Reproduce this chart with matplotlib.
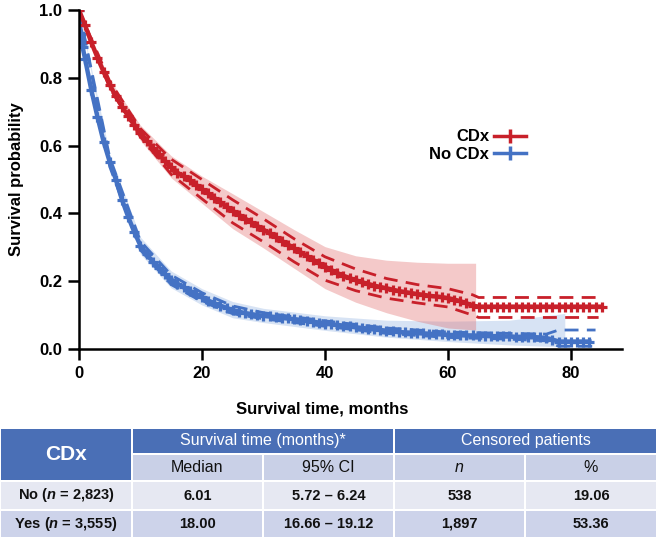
import matplotlib
matplotlib.use("Agg")
import matplotlib.pyplot as plt
from matplotlib.lines import Line2D
from matplotlib.patches import Rectangle

plt.rcParams['font.family'] = ['Liberation Sans', 'DejaVu Sans']
plt.rcParams['mathtext.fontset'] = 'custom'
plt.rcParams['mathtext.bfit'] = 'Liberation Sans:italic:bold'
plt.rcParams['mathtext.it'] = 'Liberation Sans:italic'
plt.rcParams['mathtext.rm'] = 'Liberation Sans'

RED = '#c8202a'
BLUE = '#4472c4'

# Kaplan-Meier estimates (months, survival probability)
cdx_t = list(range(0, 86))
cdx_s = [1.000, 0.955, 0.905, 0.860, 0.818, 0.780, 0.745, 0.715, 0.688, 0.662,
         0.638, 0.615, 0.594, 0.574, 0.555, 0.537, 0.520, 0.510, 0.498, 0.485,
         0.472, 0.459, 0.446, 0.433, 0.420, 0.408, 0.396, 0.385, 0.374, 0.363,
         0.352, 0.341, 0.330, 0.319, 0.308, 0.297, 0.286, 0.275, 0.264, 0.253,
         0.243, 0.233, 0.224, 0.216, 0.209, 0.203, 0.197, 0.192, 0.187, 0.183,
         0.179, 0.175, 0.171, 0.168, 0.165, 0.162, 0.160, 0.157, 0.155, 0.153,
         0.150, 0.146, 0.141, 0.135, 0.128, 0.125, 0.125, 0.125, 0.125, 0.125,
         0.125, 0.125, 0.125, 0.125, 0.125, 0.125, 0.125, 0.125, 0.125, 0.125,
         0.125, 0.125, 0.125, 0.125, 0.125, 0.125]

nocdx_t = [0, 0.3, 0.6] + list(range(1, 84))
nocdx_s = [1.000, 0.930, 0.890,
           0.855, 0.765, 0.685, 0.612, 0.552, 0.500, 0.440, 0.390, 0.345,
           0.305, 0.280, 0.258, 0.238, 0.220, 0.205, 0.193, 0.182, 0.172, 0.162,
           0.152, 0.143, 0.135, 0.128, 0.121, 0.115, 0.110, 0.106, 0.103, 0.100,
           0.098, 0.096, 0.094, 0.092, 0.090, 0.088, 0.086, 0.084, 0.081, 0.078,
           0.075, 0.073, 0.071, 0.069, 0.067, 0.064, 0.062, 0.060, 0.058, 0.056,
           0.054, 0.052, 0.050, 0.049, 0.048, 0.047, 0.046, 0.045, 0.044, 0.043,
           0.042, 0.041, 0.041, 0.040, 0.040, 0.039, 0.039, 0.038, 0.038, 0.037,
           0.037, 0.036, 0.036, 0.035, 0.035, 0.034, 0.032, 0.028, 0.022, 0.022,
           0.022, 0.022, 0.022, 0.022]

# pointwise 95% CI (dashed lines)
cdx_ci_t = [0, 5, 10, 15, 20, 25, 30, 35, 40, 45, 50, 55, 60, 64, 65, 70, 75, 80, 84.5]
cdx_ci_hi = [1.0, 0.79, 0.65, 0.56, 0.5, 0.44, 0.384, 0.325, 0.272, 0.236, 0.208,
             0.19, 0.178, 0.16, 0.152, 0.152, 0.152, 0.152, 0.152]
cdx_ci_lo = [1.0, 0.77, 0.626, 0.515, 0.443, 0.372, 0.316, 0.257, 0.203, 0.172, 0.15,
             0.136, 0.124, 0.1, 0.093, 0.093, 0.093, 0.093, 0.093]

nocdx_ci_t = [0, 5, 10, 15, 20, 25, 30, 40, 50, 60, 70, 76, 78, 84]
nocdx_ci_hi = [1.0, 0.565, 0.318, 0.218, 0.166, 0.127, 0.107, 0.083, 0.062, 0.05,
               0.046, 0.044, 0.056, 0.056]
nocdx_ci_lo = [1.0, 0.538, 0.292, 0.19, 0.14, 0.104, 0.089, 0.067, 0.046, 0.034,
               0.029, 0.024, 0.008, 0.008]

# confidence bands (shaded)
cdx_band_t = [0, 5, 10, 15, 20, 25, 30, 35, 40, 45, 50, 55, 60, 64.5]
cdx_band_hi = [1.0, 0.795, 0.66, 0.57, 0.51, 0.458, 0.405, 0.352, 0.302, 0.275,
               0.262, 0.256, 0.253, 0.253]
cdx_band_lo = [1.0, 0.765, 0.615, 0.505, 0.43, 0.355, 0.298, 0.238, 0.178, 0.138,
               0.107, 0.082, 0.062, 0.056]

nocdx_band_t = [0, 5, 10, 15, 20, 25, 30, 40, 50, 60, 70, 79]
nocdx_band_hi = [1.0, 0.575, 0.33, 0.23, 0.178, 0.14, 0.12, 0.098, 0.085, 0.082,
                 0.085, 0.105]
nocdx_band_lo = [1.0, 0.53, 0.28, 0.18, 0.13, 0.092, 0.078, 0.055, 0.035, 0.022,
                 0.012, 0.006]

xticks = [0, 20, 40, 60, 80]
yticks = [0.0, 0.2, 0.4, 0.6, 0.8, 1.0]

# table contents
col_groups = ['Survival time (months)*', 'Censored patients']
sub_heads = ['Median', '95% CI', r'$\mathit{n}$', '%']
row_labels = [r'No ($\mathbfit{n}$ = 2,823)', r'Yes ($\mathbfit{n}$ = 3,555)']
medians = ['6.01', '18.00']
cis = ['5.72 – 6.24', '16.66 – 19.12']
cens_n = ['538', '1,897']
cens_pct = ['19.06', '53.36']

fig = plt.figure(figsize=(6.57, 5.38), dpi=100)
ax = fig.add_axes([0.1202, 0.3513, 0.8265, 0.630])

ax.fill_between(nocdx_band_t, nocdx_band_lo, nocdx_band_hi, color='#8fb0e0',
                alpha=0.35, lw=0)
ax.fill_between(cdx_band_t, cdx_band_lo, cdx_band_hi, color='#e06666',
                alpha=0.35, lw=0)

for t, lo, hi, c in [(nocdx_ci_t, nocdx_ci_lo, nocdx_ci_hi, BLUE),
                     (cdx_ci_t, cdx_ci_lo, cdx_ci_hi, RED)]:
    ax.plot(t, lo, color=c, lw=2, dashes=(5, 3))
    ax.plot(t, hi, color=c, lw=2, dashes=(5, 3))

ax.plot(nocdx_t, nocdx_s, color=BLUE, lw=3.2, marker='+', ms=7.5, mew=2.3)
ax.plot(cdx_t, cdx_s, color=RED, lw=3.2, marker='+', ms=7.5, mew=2.3)

ax.set_xlim(0, 88.3)
ax.set_ylim(0, 1.0)
ax.set_xticks(xticks)
ax.set_yticks(yticks)
ax.set_yticklabels([f'{v:.1f}' for v in yticks])
ax.tick_params(length=8, width=1.8, labelsize=12, pad=4)
for lab in ax.get_xticklabels() + ax.get_yticklabels():
    lab.set_fontweight('bold')
for s in ['top', 'right']:
    ax.spines[s].set_visible(False)
for s in ['left', 'bottom']:
    ax.spines[s].set_linewidth(1.8)
ax.set_xlabel('Survival time, months', fontsize=12, fontweight='bold')
ax.set_ylabel('Survival probability', fontsize=12, fontweight='bold')
ax.xaxis.set_label_coords(0.448, -0.155)
ax.yaxis.set_label_coords(-0.102, 0.5)

handles = [Line2D([], [], color=RED, lw=2.5, marker='|', ms=10, mew=2.5),
           Line2D([], [], color=BLUE, lw=2.5, marker='|', ms=10, mew=2.5)]
leg = ax.legend(handles, ['CDx', 'No CDx'], loc='center', markerfirst=False,
                frameon=False, prop={'weight': 'bold', 'size': 12},
                handlelength=1.9, handletextpad=0.3, labelspacing=0.15,
                bbox_to_anchor=(0.734, 0.6))

# table drawn as patches on a figure-level axes (pixel coordinates)
tax = fig.add_axes([0, 0, 1, 110 / 538])
tax.set_xlim(0, 657)
tax.set_ylim(538, 428)
tax.axis('off')

HEAD = '#4a6fb6'
SUB = '#c9d0e7'
ROW1 = '#e6e8f2'
ROW2 = '#cdd3ea'
cols = [0, 132, 263, 394, 525, 657]
rows = [428, 454, 481, 510, 538]
gap = 1.2


def cell(x0, x1, y0, y1, bg, text, **kw):
    tax.add_patch(Rectangle((x0 + gap, y0 + gap), x1 - x0 - 2 * gap,
                            y1 - y0 - 2 * gap, facecolor=bg, lw=0))
    tax.text((x0 + x1) / 2, (y0 + y1) / 2, text, ha='center', va='center', **kw)


cell(cols[0], cols[1], rows[0], rows[2], HEAD, 'CDx', color='white',
     fontsize=15, fontweight='bold')
for i, g in enumerate(col_groups):
    cell(cols[1 + 2 * i], cols[3 + 2 * i], rows[0], rows[1], HEAD, g,
         color='white', fontsize=11.5)
for i, h in enumerate(sub_heads):
    cell(cols[1 + i], cols[2 + i], rows[1], rows[2], SUB, h, color='#111111',
         fontsize=11.5)
for r, bg in enumerate([ROW1, ROW2]):
    vals = [row_labels[r], medians[r], cis[r], cens_n[r], cens_pct[r]]
    for c, v in enumerate(vals):
        cell(cols[c], cols[c + 1], rows[2 + r], rows[3 + r], bg, v,
             color='#111111', fontsize=10.5, fontweight='bold')

fig.savefig('out.png', dpi=100)
